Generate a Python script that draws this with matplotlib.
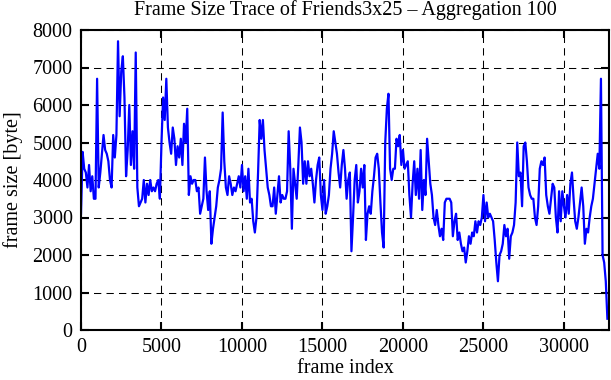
import numpy as np
import matplotlib
matplotlib.use("Agg")
import matplotlib.pyplot as plt

# Aggregated frame sizes (mean over 100 frames), one value per 100 frames
frame_size = [
    3100, 4750, 4300, 4200, 3800, 4400, 3700, 4100, 3500, 3500,
    6700, 3800, 4200, 4700, 5200, 4800, 4700, 4500, 4000, 3800,
    5200, 4600, 5200, 7700, 5700, 6900, 7300, 6200, 4100, 4800,
    6000, 4400, 5300, 4300, 7400, 3800, 3300, 3400, 3500, 4000,
    3400, 3900, 3600, 4000, 3700, 3800, 3700, 3900, 4000, 3500,
    5000, 6200, 5600, 6700, 5400, 5000, 4700, 5400, 5100, 4400,
    4900, 4600, 5100, 4400, 5500, 5000, 5900, 3600, 4100, 3900,
    4000, 4000, 3700, 3800, 3100, 3300, 3500, 4600, 3700, 3200,
    3700, 2300, 2700, 3000, 3300, 3800, 4000, 4300, 5800, 4500,
    3800, 3600, 4100, 3900, 3600, 3800, 3700, 3900, 4100, 3800,
    4400, 3700, 4100, 3500, 4300, 3400, 3500, 2900, 2600, 3000,
    4200, 5600, 5100, 5600, 4800, 4300, 3800, 3600, 3300, 3300,
    3800, 3100, 3600, 4100, 3400, 3600, 3500, 3500, 3700, 5300,
    4300, 2700, 4300, 3900, 3500, 4400, 5400, 5000, 3900, 4500,
    3900, 4500, 4100, 4300, 3900, 3400, 4000, 4400, 4600, 3600,
    3200, 4000, 3100, 3300, 3600, 4300, 4700, 5300, 5000, 4700,
    4200, 3800, 4400, 4800, 4300, 3500, 4000, 4200, 2100, 3000,
    4000, 4400, 3400, 3700, 4300, 3800, 4400, 2400, 3100, 3300,
    3100, 3700, 4100, 4600, 4700, 4300, 3400, 2600, 2200, 5000,
    5900, 6300, 4300, 4000, 4300, 4300, 5100, 4900, 5200, 4400,
    4800, 4300, 4400, 4500, 3600, 3000, 3900, 4500, 3600, 4300,
    3500, 4800, 3200, 4000, 3600, 5100, 4500, 3900, 3600, 3000,
    2800, 3200, 2800, 2500, 2700, 2400, 3400, 3500, 3500, 3500,
    3400, 2500, 2900, 3100, 2400, 2600, 2300, 2100, 2200, 1800,
    2100, 2500, 2300, 2600, 2500, 2900, 2600, 2900, 2800, 3000,
    3600, 2900, 3400, 3000, 3100, 3000, 2900, 2400, 1800, 1300,
    2000, 2100, 2300, 2800, 2500, 2700, 1900, 2500, 2600, 2800,
    3400, 5000, 4100, 4200, 3300, 4900, 5000, 4500, 3800, 3600,
    3500, 3500, 3000, 2800, 3300, 4300, 4500, 4400, 4600, 3600,
    3300, 3100, 3500, 3900, 3800, 3000, 2600, 3700, 2900, 3700,
    3300, 3000, 3600, 3100, 3900, 4200, 3500, 2900, 2700, 3000,
    3400, 3800, 3300, 2300, 2700, 2600, 3000, 3300, 3500, 3900,
    4300, 4700, 4300, 6700, 2000, 1800, 1300, 300,
]
aggregation = 100
x_ticks = [0, 5000, 10000, 15000, 20000, 25000, 30000]
y_ticks = [0, 1000, 2000, 3000, 4000, 5000, 6000, 7000, 8000]
x_max = 32800
title = "Frame Size Trace of Friends3x25 \u2013 Aggregation 100"

plt.rcParams['font.family'] = ['Liberation Serif', 'DejaVu Serif']
fs = 14.5
plt.rcParams['font.size'] = fs

fig = plt.figure(figsize=(6.11, 3.80), dpi=100)
ax = fig.add_axes([81/611, 1 - 330/380, (609 - 81)/611, 300/380])

frames = np.arange(len(frame_size)) * aggregation
ax.plot(frames, frame_size, color='#0000ff', linewidth=1.6)

ax.set_xlim(0, x_max)
ax.set_ylim(0, 8000)
ax.set_xticks(x_ticks)
ax.set_yticks(y_ticks)
ax.set_xticklabels([str(v) for v in x_ticks])
ax.set_yticklabels([str(v) for v in y_ticks])

ax.grid(True, color='black', linewidth=0.75, linestyle=(0, (7, 5)))
ax.set_axisbelow(True)
for s in ax.spines.values():
    s.set_linewidth(1.5)
ax.tick_params(direction='in', length=6, width=1.5, top=True, right=True,
               labelsize=fs)
ax.tick_params(axis='x', pad=6)
ax.tick_params(axis='y', pad=6)

ax.set_title(title, fontsize=fs, pad=11)
ax.set_xlabel("frame index", fontsize=fs, labelpad=1.5)
ax.set_ylabel("frame size [byte]", fontsize=fs, labelpad=7)

fig.savefig("out.png", dpi=100)
